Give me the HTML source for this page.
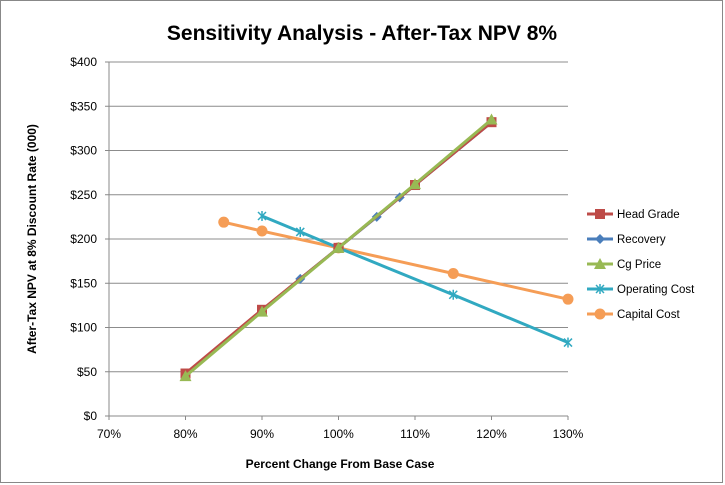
<!DOCTYPE html>
<html><head><meta charset="utf-8"><style>
html,body{margin:0;padding:0;background:#fff;}
svg{display:block;font-family:"Liberation Sans",Arial,sans-serif;}
</style></head><body>
<svg id="chart" width="725" height="485" xmlns="http://www.w3.org/2000/svg">
<rect x="0.5" y="0.5" width="722" height="482" fill="#fff" stroke="#888"/>
<text x="362" y="40" text-anchor="middle" font-size="21" font-weight="bold" fill="#000">Sensitivity Analysis - After-Tax NPV 8%</text>
<g id="grid"></g><g id="axes"></g><g id="series"></g><g id="legend"></g>
<text x="340" y="468" text-anchor="middle" font-size="12" font-weight="bold">Percent Change From Base Case</text>
<text transform="translate(36,239) rotate(-90)" text-anchor="middle" font-size="12" font-weight="bold">After-Tax NPV at 8% Discount Rate (000)</text>
</svg>
<script>
const xTicks=[70,80,90,100,110,120,130];
const yTicks=[0,50,100,150,200,250,300,350,400];
const seriesNames=["Head Grade","Recovery","Cg Price","Operating Cost","Capital Cost"];
const headX=[80,90,100,110,120];
const headY=[48,120,190,261,332];
const recX=[80,90,95,100,105,108,110,120];
const recY=[47,119,155,190,225,247,261,332];
const cgX=[80,90,100,110,120];
const cgY=[45,118,190,262,335];
const opX=[90,95,100,115,130];
const opY=[226,208,190,137,83];
const capX=[85,90,100,115,130];
const capY=[219,209,190,161,132];
const NS="http://www.w3.org/2000/svg";
const L=109,R=568,T=62,B=416;
const xs=v=>L+(v-70)/60*(R-L);
const ys=v=>B-v/400*(B-T);
function mk(tag,attrs,parent){const e=document.createElementNS(NS,tag);for(const k in attrs)e.setAttribute(k,attrs[k]);parent.appendChild(e);return e;}
const grid=document.getElementById('grid'),axes=document.getElementById('axes'),ser=document.getElementById('series'),leg=document.getElementById('legend');
yTicks.forEach(v=>{
 if(v>0){const g=mk('line',{x1:L,x2:R,y1:ys(v),y2:ys(v),stroke:'#8c8c8c','stroke-width':1},grid);
 
 }
 const t=mk('text',{x:L-12,y:ys(v)+4,'text-anchor':'end','font-size':12},axes);t.textContent='$'+v;
 
 
 mk('line',{x1:L-4,x2:L,y1:ys(v),y2:ys(v),stroke:'#888'},axes);
});
xTicks.forEach(v=>{
 const t=mk('text',{x:xs(v),y:B+22,'text-anchor':'middle','font-size':12},axes);t.textContent=v+'%';
 
 
 mk('line',{x1:xs(v),x2:xs(v),y1:B,y2:B+4,stroke:'#888'},axes);
});
mk('line',{x1:L,x2:L,y1:T,y2:B,stroke:'#888'},axes);
mk('line',{x1:L,x2:R,y1:B,y2:B,stroke:'#888'},axes);
function marker(type,x,y,c,p){
 if(type==='sq')return mk('rect',{x:x-5,y:y-5,width:10,height:10,fill:c},p);
 if(type==='dia')return mk('polygon',{points:`${x},${y-5} ${x+5},${y} ${x},${y+5} ${x-5},${y}`,fill:c},p);
 if(type==='tri')return mk('polygon',{points:`${x},${y-6} ${x+6},${y+5} ${x-6},${y+5}`,fill:c},p);
 if(type==='x'){const g=mk('g',{stroke:c,'stroke-width':1.5},p);mk('line',{x1:x-4,y1:y-4,x2:x+4,y2:y+4},g);mk('line',{x1:x-4,y1:y+4,x2:x+4,y2:y-4},g);mk('line',{x1:x,y1:y-5,x2:x,y2:y+5},g);return g;}
 return mk('circle',{cx:x,cy:y,r:5.5,fill:c},p);
}
const defs=[[headX,headY,'#be4b48','sq'],[recX,recY,'#4a7ebb','dia'],[cgX,cgY,'#98b954','tri'],[opX,opY,'#31a9c1','x'],[capX,capY,'#f59d56','circ']];
const order=[4,3,1,0,2];
order.forEach(i=>{
 const [X,Y,c,m]=defs[i];
 const g=mk('g',{},ser);
 
 
 mk('polyline',{points:X.map((v,j)=>xs(v)+','+ys(Y[j])).join(' '),fill:'none',stroke:c,'stroke-width':3},g);
 X.forEach((v,j)=>{const mm=marker(m,xs(v),ys(Y[j]),c,g);
 
 });
});
seriesNames.forEach((n,i)=>{
 const [X,Y,c,m]=defs[i];const y=214+i*25;
 const g=mk('g',{},leg);
 
 
 mk('line',{x1:587,x2:613,y1:y,y2:y,stroke:c,'stroke-width':3},g);
 marker(m,600,y,c,g);
 const t=mk('text',{x:617,y:y+4,'font-size':11.5},g);t.textContent=n;
});
</script>
</body></html>
